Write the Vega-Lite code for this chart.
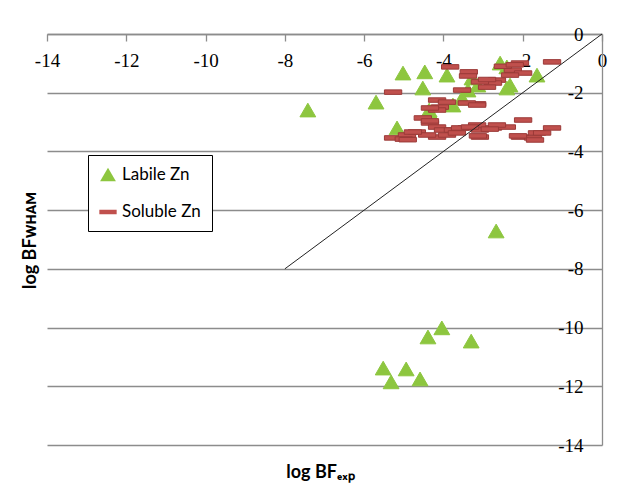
{
  "$schema": "https://vega.github.io/schema/vega-lite/v6.json",
  "width": 555,
  "height": 411,
  "autosize": {"type": "none"},
  "padding": {"left": 47, "top": 34, "right": 33, "bottom": 41},
  "background": "white",
  "config": {"view": {"stroke": null}},
  "datasets": {
    "points": [
      {"series": "Labile Zn", "bf_exp": -7.42, "bf_wham": -2.59},
      {"series": "Labile Zn", "bf_exp": -5.70, "bf_wham": -2.32},
      {"series": "Labile Zn", "bf_exp": -5.02, "bf_wham": -1.33},
      {"series": "Labile Zn", "bf_exp": -4.47, "bf_wham": -1.29},
      {"series": "Labile Zn", "bf_exp": -4.52, "bf_wham": -1.84},
      {"series": "Labile Zn", "bf_exp": -3.91, "bf_wham": -1.40},
      {"series": "Labile Zn", "bf_exp": -5.17, "bf_wham": -3.20},
      {"series": "Labile Zn", "bf_exp": -4.36, "bf_wham": -2.59},
      {"series": "Labile Zn", "bf_exp": -3.38, "bf_wham": -1.91},
      {"series": "Labile Zn", "bf_exp": -3.28, "bf_wham": -1.50},
      {"series": "Labile Zn", "bf_exp": -3.76, "bf_wham": -2.42},
      {"series": "Labile Zn", "bf_exp": -3.53, "bf_wham": -2.18},
      {"series": "Labile Zn", "bf_exp": -2.57, "bf_wham": -0.99},
      {"series": "Labile Zn", "bf_exp": -2.40, "bf_wham": -1.12},
      {"series": "Labile Zn", "bf_exp": -2.32, "bf_wham": -1.74},
      {"series": "Labile Zn", "bf_exp": -2.40, "bf_wham": -1.84},
      {"series": "Labile Zn", "bf_exp": -1.64, "bf_wham": -1.40},
      {"series": "Labile Zn", "bf_exp": -3.13, "bf_wham": -1.74},
      {"series": "Labile Zn", "bf_exp": -4.34, "bf_wham": -2.69},
      {"series": "Labile Zn", "bf_exp": -2.67, "bf_wham": -6.71},
      {"series": "Labile Zn", "bf_exp": -4.04, "bf_wham": -10.01},
      {"series": "Labile Zn", "bf_exp": -4.39, "bf_wham": -10.32},
      {"series": "Labile Zn", "bf_exp": -3.30, "bf_wham": -10.46},
      {"series": "Labile Zn", "bf_exp": -5.52, "bf_wham": -11.38},
      {"series": "Labile Zn", "bf_exp": -4.94, "bf_wham": -11.41},
      {"series": "Labile Zn", "bf_exp": -5.32, "bf_wham": -11.85},
      {"series": "Labile Zn", "bf_exp": -4.59, "bf_wham": -11.75},
      {"series": "Soluble Zn", "bf_exp": -1.26, "bf_wham": -0.95},
      {"series": "Soluble Zn", "bf_exp": -5.27, "bf_wham": -1.98},
      {"series": "Soluble Zn", "bf_exp": -3.83, "bf_wham": -1.12},
      {"series": "Soluble Zn", "bf_exp": -3.36, "bf_wham": -1.29},
      {"series": "Soluble Zn", "bf_exp": -3.38, "bf_wham": -1.43},
      {"series": "Soluble Zn", "bf_exp": -2.07, "bf_wham": -0.99},
      {"series": "Soluble Zn", "bf_exp": -2.25, "bf_wham": -1.23},
      {"series": "Soluble Zn", "bf_exp": -1.99, "bf_wham": -1.33},
      {"series": "Soluble Zn", "bf_exp": -2.32, "bf_wham": -1.40},
      {"series": "Soluble Zn", "bf_exp": -2.65, "bf_wham": -1.57},
      {"series": "Soluble Zn", "bf_exp": -2.75, "bf_wham": -1.67},
      {"series": "Soluble Zn", "bf_exp": -2.90, "bf_wham": -1.81},
      {"series": "Soluble Zn", "bf_exp": -3.53, "bf_wham": -1.91},
      {"series": "Soluble Zn", "bf_exp": -3.08, "bf_wham": -1.63},
      {"series": "Soluble Zn", "bf_exp": -4.16, "bf_wham": -2.25},
      {"series": "Soluble Zn", "bf_exp": -3.91, "bf_wham": -2.32},
      {"series": "Soluble Zn", "bf_exp": -3.15, "bf_wham": -2.38},
      {"series": "Soluble Zn", "bf_exp": -4.09, "bf_wham": -2.49},
      {"series": "Soluble Zn", "bf_exp": -4.16, "bf_wham": -2.59},
      {"series": "Soluble Zn", "bf_exp": -4.52, "bf_wham": -2.86},
      {"series": "Soluble Zn", "bf_exp": -4.34, "bf_wham": -3.03},
      {"series": "Soluble Zn", "bf_exp": -4.16, "bf_wham": -3.17},
      {"series": "Soluble Zn", "bf_exp": -1.99, "bf_wham": -2.93},
      {"series": "Soluble Zn", "bf_exp": -1.26, "bf_wham": -3.20},
      {"series": "Soluble Zn", "bf_exp": -5.27, "bf_wham": -3.54},
      {"series": "Soluble Zn", "bf_exp": -4.92, "bf_wham": -3.44},
      {"series": "Soluble Zn", "bf_exp": -4.67, "bf_wham": -3.34},
      {"series": "Soluble Zn", "bf_exp": -4.01, "bf_wham": -3.27},
      {"series": "Soluble Zn", "bf_exp": -3.76, "bf_wham": -3.27},
      {"series": "Soluble Zn", "bf_exp": -3.41, "bf_wham": -3.20},
      {"series": "Soluble Zn", "bf_exp": -3.08, "bf_wham": -3.27},
      {"series": "Soluble Zn", "bf_exp": -2.75, "bf_wham": -3.20},
      {"series": "Soluble Zn", "bf_exp": -2.40, "bf_wham": -3.17},
      {"series": "Soluble Zn", "bf_exp": -1.64, "bf_wham": -3.37},
      {"series": "Soluble Zn", "bf_exp": -2.07, "bf_wham": -3.51},
      {"series": "Soluble Zn", "bf_exp": -1.74, "bf_wham": -3.54},
      {"series": "Soluble Zn", "bf_exp": -4.16, "bf_wham": -3.51},
      {"series": "Soluble Zn", "bf_exp": -3.91, "bf_wham": -3.44},
      {"series": "Soluble Zn", "bf_exp": -3.08, "bf_wham": -3.51},
      {"series": "Soluble Zn", "bf_exp": -3.66, "bf_wham": -3.37},
      {"series": "Soluble Zn", "bf_exp": -4.41, "bf_wham": -3.44},
      {"series": "Soluble Zn", "bf_exp": -3.15, "bf_wham": -3.10},
      {"series": "Soluble Zn", "bf_exp": -2.65, "bf_wham": -3.10},
      {"series": "Soluble Zn", "bf_exp": -2.83, "bf_wham": -3.24},
      {"series": "Soluble Zn", "bf_exp": -3.13, "bf_wham": -3.47},
      {"series": "Soluble Zn", "bf_exp": -2.12, "bf_wham": -3.47},
      {"series": "Soluble Zn", "bf_exp": -1.51, "bf_wham": -3.37},
      {"series": "Soluble Zn", "bf_exp": -1.69, "bf_wham": -3.61},
      {"series": "Soluble Zn", "bf_exp": -4.34, "bf_wham": -2.52},
      {"series": "Soluble Zn", "bf_exp": -3.41, "bf_wham": -2.35},
      {"series": "Soluble Zn", "bf_exp": -3.15, "bf_wham": -2.42},
      {"series": "Soluble Zn", "bf_exp": -4.34, "bf_wham": -2.96},
      {"series": "Soluble Zn", "bf_exp": -5.00, "bf_wham": -3.58},
      {"series": "Soluble Zn", "bf_exp": -4.77, "bf_wham": -3.34},
      {"series": "Soluble Zn", "bf_exp": -3.58, "bf_wham": -3.20},
      {"series": "Soluble Zn", "bf_exp": -3.33, "bf_wham": -3.17},
      {"series": "Soluble Zn", "bf_exp": -2.50, "bf_wham": -1.10},
      {"series": "Soluble Zn", "bf_exp": -2.90, "bf_wham": -1.55},
      {"series": "Soluble Zn", "bf_exp": -2.20, "bf_wham": -1.05},
      {"series": "Soluble Zn", "bf_exp": -4.90, "bf_wham": -3.60}
    ],
    "diag": [
      {"bf_exp": -8, "bf_wham": -8},
      {"bf_exp": 0, "bf_wham": 0}
    ]
  },
  "layer": [
    {
      "data": {"name": "points"},
      "mark": {"type": "point", "filled": true, "opacity": 1, "strokeWidth": 1},
      "encoding": {
        "x": {
          "field": "bf_exp",
          "type": "quantitative",
          "scale": {"domain": [-14, 0], "nice": false, "zero": false},
          "axis": {
            "orient": "bottom",
            "offset": -411,
            "values": [-14, -12, -10, -8, -6, -4, -2, 0],
            "grid": false,
            "domainColor": "#8c8c8c",
            "domainWidth": 1.3,
            "tickColor": "#8c8c8c",
            "tickWidth": 1.3,
            "tickSize": 7,
            "labelExpr": "'' + datum.value",
            "labelFont": "Liberation Serif",
            "labelFontSize": 19,
            "labelColor": "black",
            "labelPadding": 10,
            "labelBaseline": "top",
            "labelFlush": false,
            "labelOverlap": false,
            "title": "log BFₑₓₚ",
            "titleFont": "Lato",
            "titleFontSize": 18,
            "titleFontWeight": "bold",
            "titleColor": "black",
            "titleX": 273,
            "titleY": 443,
            "titleBaseline": "alphabetic"
          }
        },
        "y": {
          "field": "bf_wham",
          "type": "quantitative",
          "scale": {"domain": [-14, 0], "nice": false, "zero": false},
          "axis": {
            "orient": "left",
            "offset": -555,
            "values": [0, -2, -4, -6, -8, -10, -12, -14],
            "grid": true,
            "gridColor": "#8c8c8c",
            "gridWidth": 1.3,
            "domainColor": "#8c8c8c",
            "domainWidth": 1.3,
            "ticks": false,
            "labelExpr": "'' + datum.value",
            "labelPadding": 19,
            "labelFont": "Liberation Serif",
            "labelFontSize": 19,
            "labelColor": "black",
            "labelFlush": false,
            "labelOverlap": false,
            "title": "log BFᴡʜᴀᴍ",
            "titleFont": "Lato",
            "titleFontSize": 18,
            "titleFontWeight": "bold",
            "titleColor": "black",
            "titleX": -572,
            "titleY": 206,
            "titleBaseline": "middle",
            "titleAngle": -90
          }
        },
        "color": {
          "field": "series",
          "type": "nominal",
          "scale": {"domain": ["Labile Zn", "Soluble Zn"], "range": ["#8dc63f", "#c0504d"]},
          "legend": {
            "title": null,
            "orient": "none",
            "legendX": 41,
            "legendY": 121,
            "strokeColor": "black",
            "fillColor": "white",
            "padding": 11,
            "labelFont": "Lato",
            "labelFontSize": 17,
            "labelColor": "black",
            "symbolSize": 190,
            "rowPadding": 20,
            "labelOffset": 5,
            "symbolStrokeWidth": 0
          }
        },
        "shape": {
          "field": "series",
          "type": "nominal",
          "scale": {"domain": ["Labile Zn", "Soluble Zn"], "range": ["triangle-up", "M-1,-0.26L1,-0.26L1,0.26L-1,0.26Z"]}
        },
        "size": {
          "field": "series",
          "type": "ordinal",
          "scale": {"domain": ["Labile Zn", "Soluble Zn"], "range": [250, 300]},
          "legend": null
        },
        "stroke": {
          "field": "series",
          "type": "nominal",
          "scale": {"domain": ["Labile Zn", "Soluble Zn"], "range": ["#8dc63f", "#9b3a38"]},
          "legend": null
        }
      }
    },
    {
      "data": {"name": "diag"},
      "mark": {"type": "line", "color": "#222222", "strokeWidth": 1},
      "encoding": {
        "x": {"field": "bf_exp", "type": "quantitative"},
        "y": {"field": "bf_wham", "type": "quantitative"}
      }
    }
  ]
}
